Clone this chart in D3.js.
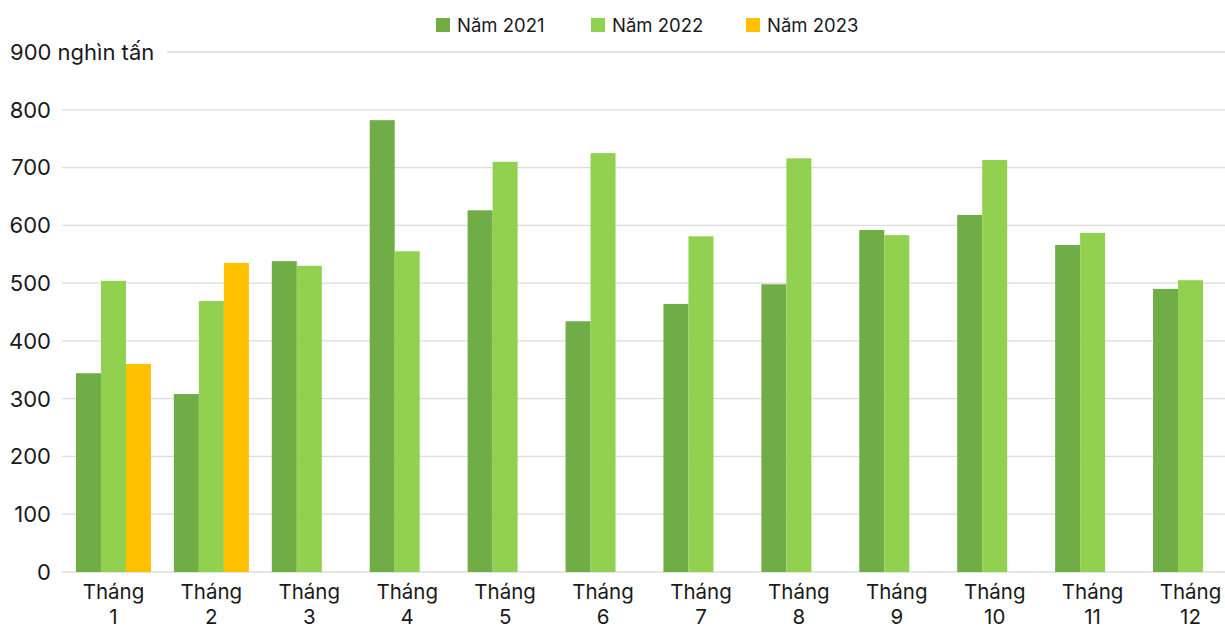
<!DOCTYPE html>
<html>
<head>
<meta charset="utf-8">
<script src="https://cdn.jsdelivr.net/npm/d3@7"></script>
<style>
  body { margin: 0; background: #fff; }
  svg { font-family: Inter, "Open Sans", "DejaVu Sans", sans-serif; }
</style>
</head>
<body>
<script>
// data (nghìn tấn)
const months = ['1', '2', '3', '4', '5', '6', '7', '8', '9', '10', '11', '12']
const seriesNames = ['Năm 2021', 'Năm 2022', 'Năm 2023']
const y2021 = [344, 308, 538, 782, 626, 434, 464, 498, 592, 618, 566, 490]
const y2022 = [504, 469, 530, 555, 710, 725, 581, 716, 583, 713, 587, 505]
const y2023 = [360, 535, null, null, null, null, null, null, null, null, null, null]
const yTicks = [0, 100, 200, 300, 400, 500, 600, 700, 800, 900]
const colors = ['#70ad47', '#92d050', '#ffc000']

const W = 1225, H = 629
const plot = {left: 64.5, right: 1239.5, top: 52, bottom: 572}

const svg = d3.select('body').append('svg')
  .attr('width', W)
  .attr('height', H)

const x = d3.scaleBand().domain(months).range([plot.left, plot.right]).paddingInner(0.234).paddingOuter(0.117)
const xs = d3.scaleBand().domain(seriesNames).range([0, x.bandwidth()])
const y = d3.scaleLinear().domain([0, 900]).range([plot.bottom, plot.top])

// gridlines (top one starts after the unit label)
svg.append('g').selectAll('line')
  .data(yTicks)
  .enter().append('line')
  .attr('x1', d => d === 900 ? 167 : 62).attr('x2', W)
  .attr('y1', d => y(d)).attr('y2', d => y(d))
  .style('stroke', '#dcdcdc')
  .style('stroke-width', 1.3)

// y labels
svg.append('g').selectAll('text')
  .data(yTicks)
  .enter().append('text')
  .attr('x', 51)
  .attr('y', d => y(d))
  .attr('dy', '0.36em')
  .attr('text-anchor', 'end')
  .attr('font-size', '22px')
  .style('fill', '#1a1a1a')
  .text(d => d === 900 ? '' : d)

// top label with unit
svg.append('text')
  .attr('x', 10)
  .attr('y', y(900))
  .attr('dy', '0.36em')
  .attr('font-size', '22px')
  .style('fill', '#1a1a1a')
  .text('900 nghìn tấn')

const table = [y2021, y2022, y2023]
const bars = []
months.forEach((m, i) => {
  seriesNames.forEach((s, j) => {
    if (table[j][i] != null) bars.push({month: m, series: s, value: table[j][i], k: j})
  })
})

svg.append('g').selectAll('rect')
  .data(bars)
  .enter().append('rect')
  .attr('x', d => x(d.month) + xs(d.series))
  .attr('y', d => y(d.value))
  .attr('width', xs.bandwidth())
  .attr('height', d => y(0) - y(d.value))
  .style('fill', d => colors[d.k])

// x labels, two lines each
const xl = svg.append('g').selectAll('g')
  .data(months)
  .enter().append('g')
  .attr('text-anchor', 'middle')
  .attr('font-size', '20.5px')
  .style('fill', '#1a1a1a')
xl.append('text')
  .attr('x', d => x(d) + x.bandwidth() / 2)
  .attr('y', 599)
  .text('Tháng')
xl.append('text')
  .attr('x', d => x(d) + x.bandwidth() / 2)
  .attr('y', 624)
  .text(d => d)

// legend
const legendX = [436, 591, 746]
const lg = svg.append('g').selectAll('g')
  .data(seriesNames)
  .enter().append('g')
  .attr('transform', (d, i) => `translate(${legendX[i]}, 25)`)
lg.append('rect')
  .attr('x', 0).attr('y', -7)
  .attr('width', 14).attr('height', 14)
  .style('fill', (d, i) => colors[i])
lg.append('text')
  .attr('x', 21)
  .attr('dy', '0.36em')
  .attr('font-size', '18.5px')
  .style('fill', '#1a1a1a')
  .text(d => d)
</script>
</body>
</html>
